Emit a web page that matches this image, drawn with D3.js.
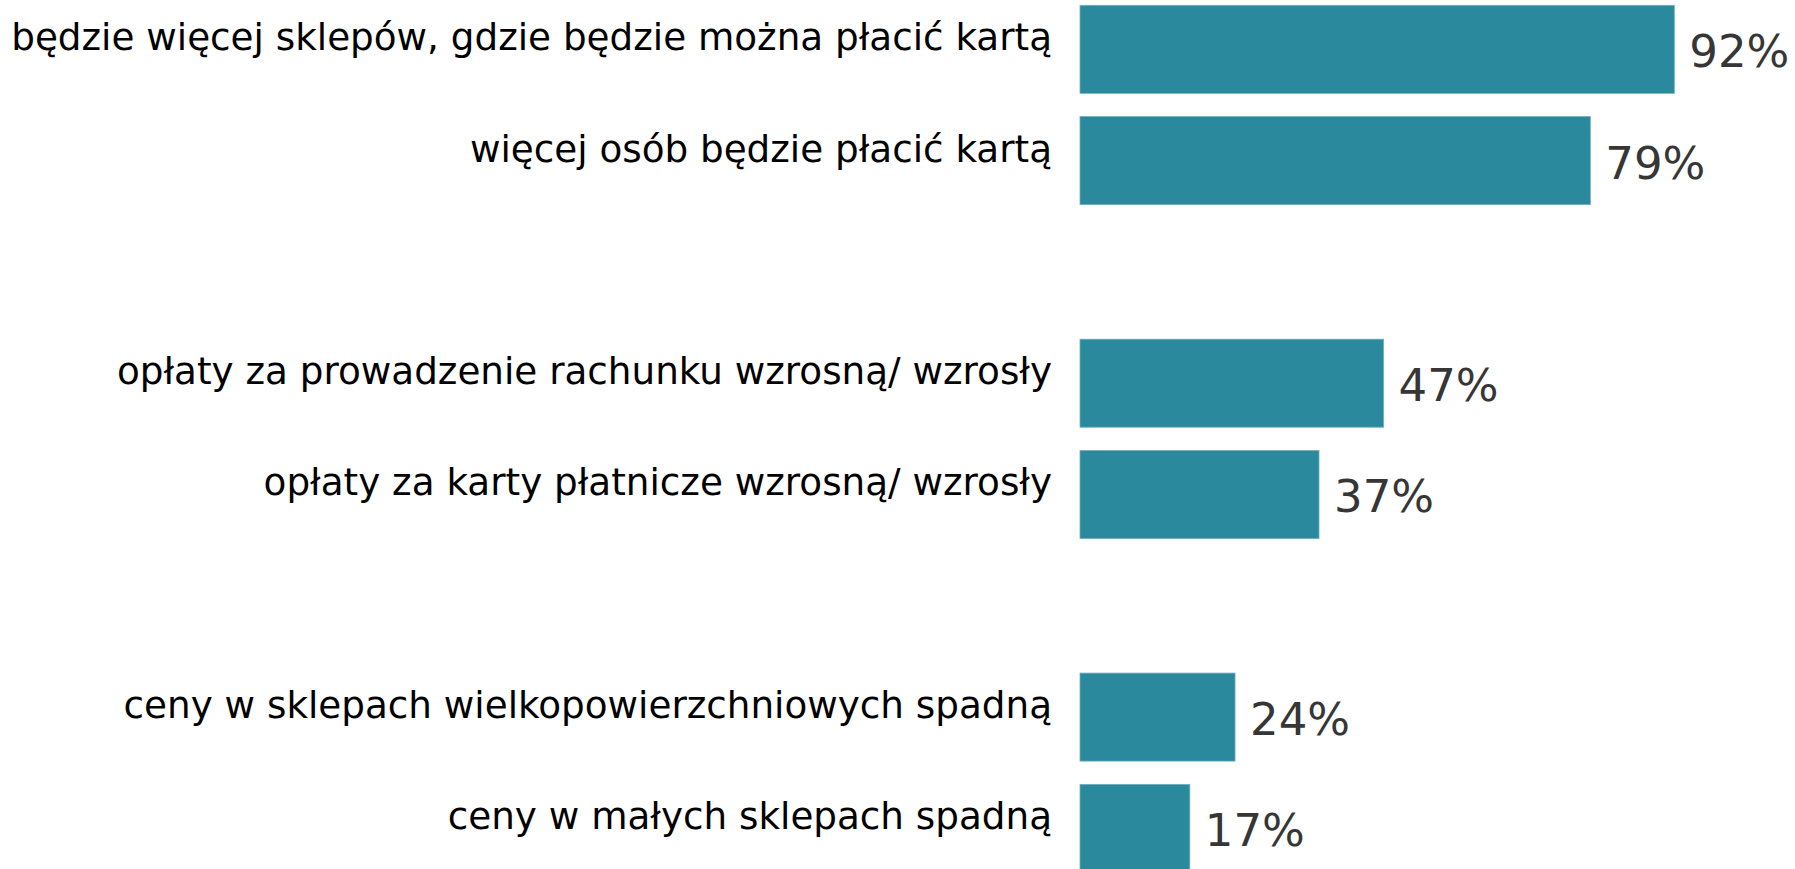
<!DOCTYPE html>
<html>
<head>
<meta charset="utf-8">
<script src="https://cdn.jsdelivr.net/npm/d3@7"></script>
<style>
  html, body { margin: 0; padding: 0; background: #fff; }
  svg { display: block; }
</style>
</head>
<body>
<div id="chart"></div>
<script>
// data
const categories = [
  "będzie więcej sklepów, gdzie będzie można płacić kartą",
  "więcej osób będzie płacić kartą",
  "opłaty za prowadzenie rachunku wzrosną/ wzrosły",
  "opłaty za karty płatnicze wzrosną/ wzrosły",
  "ceny w sklepach wielkopowierzchniowych spadną",
  "ceny w małych sklepach spadną"
];
const groups = ["karty", "karty", "oplaty", "oplaty", "ceny", "ceny"];
const values = [92, 79, 47, 37, 24, 17];

const W = 1795, H = 869;
const barColor = "#2a899d";

// one empty slot between groups
const slots = [];
categories.forEach((c, i) => {
  if (i > 0 && groups[i] !== groups[i - 1]) slots.push("gap" + i);
  slots.push(c);
});

const x = d3.scaleLinear().domain([0, 100]).range([1080, 1726]);
const y = d3.scaleBand()
  .domain(slots)
  .range([5.3, 872.4])
  .paddingInner(0.209)
  .paddingOuter(0);

const svg = d3.select("#chart").append("svg")
  .attr("width", W)
  .attr("height", H);

const rows = categories.map((c, i) => ({ label: c, value: values[i] }));

svg.selectAll("rect.bar")
  .data(rows)
  .enter()
  .append("rect")
  .attr("class", "bar")
  .attr("x", x(0))
  .attr("y", d => y(d.label))
  .attr("width", d => x(d.value) - x(0))
  .attr("height", y.bandwidth())
  .attr("fill", barColor)
  .attr("stroke", "#6fb0be")
  .attr("stroke-width", 0.8);

// category labels
svg.selectAll("text.cat")
  .data(rows)
  .enter()
  .append("text")
  .attr("class", "cat")
  .attr("x", 1052)
  .attr("y", d => y(d.label) + y.bandwidth() / 2 + 1)
  .attr("text-anchor", "end")
  .style("font-family", "'DejaVu Sans', Verdana, sans-serif")
  .style("font-size", "37.3px")
  .style("fill", "#000")
  .text(d => d.label);

// value labels
svg.selectAll("text.val")
  .data(rows)
  .enter()
  .append("text")
  .attr("class", "val")
  .attr("x", d => x(d.value) + 15)
  .attr("y", d => y(d.label) + y.bandwidth() / 2 + 18)
  .style("font-family", "'DejaVu Sans', Verdana, sans-serif")
  .style("font-size", "45px")
  .style("fill", "#363636")
  .text(d => d.value + "%");
</script>
</body>
</html>
